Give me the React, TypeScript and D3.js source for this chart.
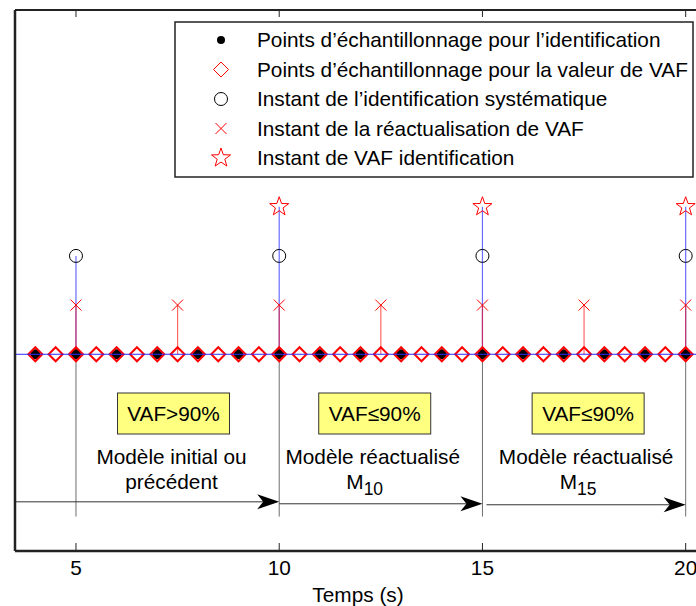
import React from "react";
import * as d3 from "d3";

// ---- data ----
const sampleIdent = [4, 5, 6, 7, 8, 9, 10, 11, 12, 13, 14, 15, 16, 17, 18, 19, 20];
const sampleVAF = [4, 4.5, 5, 5.5, 6, 6.5, 7, 7.5, 8, 8.5, 9, 9.5, 10, 10.5, 11, 11.5, 12, 12.5, 13, 13.5, 14, 14.5, 15, 15.5, 16, 16.5, 17, 17.5, 18, 18.5, 19, 19.5, 20];
const instIdent = [5, 10, 15, 20];
const instUpdate = [5, 7.5, 10, 12.5, 15, 17.5, 20];
const instVAFIdent = [10, 15, 20];
const levelUpdate = 1;
const levelIdent = 2;
const levelVAF = 3;
const xTicks = [5, 10, 15, 20];
const xLabel = "Temps (s)";
const legendLabels = [
  "Points d’échantillonnage pour l’identification",
  "Points d’échantillonnage pour la valeur de VAF",
  "Instant de l’identification systématique",
  "Instant de la réactualisation de VAF",
  "Instant de VAF identification",
];
const phaseCenters = [7.4, 12.35, 17.6];
const phaseConditions = ["VAF>90%", "VAF≤90%", "VAF≤90%"];
const phaseLine1 = ["Modèle initial ou", "Modèle réactualisé", "Modèle réactualisé"];
const phaseLine2 = ["précédent", "M", "M"];
const phaseSub = ["", "10", "15"];
const arrowStarts = [3.5, 10, 15.1];
const arrowEnds = [10, 15, 20];
const arrowLevels = [-3, -3.04, -3.06];
const guideBottom = -3.3;

const FONT = "'Liberation Sans', Arial, Helvetica, sans-serif";
const FS = 20.8;

function starPath(cx: number, cy: number, R: number, r: number) {
  const pts: string[] = [];
  for (let i = 0; i < 10; i++) {
    const a = -Math.PI / 2 + (i * Math.PI) / 5;
    const rad = i % 2 === 0 ? R : r;
    pts.push(`${cx + rad * Math.cos(a)},${cy + rad * Math.sin(a)}`);
  }
  return "M" + pts.join("L") + "Z";
}
function diamondPath(cx: number, cy: number, h: number) {
  return `M${cx},${cy - h}L${cx + h},${cy}L${cx},${cy + h}L${cx - h},${cy}Z`;
}
function crossPath(cx: number, cy: number, h: number) {
  return `M${cx - h},${cy - h}L${cx + h},${cy + h}M${cx - h},${cy + h}L${cx + h},${cy - h}`;
}

export default function App() {
  const W = 696, H = 606;
  const x = d3.scaleLinear().domain([3.5, 20.5]).range([15, 706]);
  const y = d3.scaleLinear().domain([-4, 7]).range([551, 10]);
  const [x0, x1] = x.range();
  const yTop = y(7), yBot = y(-4);
  const y0 = y(0);

  const legX = 175, legY = 22, legW = 518, legH = 155;
  const legRowY = (i: number) => legY + 18 + i * 29.5;
  const legSymX = 221, legTextX = 257;

  return (
    <svg width={W} height={H} style={{ position: "absolute", left: 0, top: 0, background: "#fff" }} fontFamily={FONT}>
      <rect x={0} y={0} width={W} height={H} fill="#fff" />
      {/* gray guides below baseline */}
      {instIdent.map((t) => (
        <line key={"g" + t} x1={x(t)} x2={x(t)} y1={y0} y2={y(guideBottom)} stroke="#6e6e6e" strokeWidth={1} />
      ))}
      {/* blue stems */}
      {instIdent.map((t) => (
        <line key={"bs" + t} x1={x(t)} x2={x(t)} y1={y0}
          y2={y(instVAFIdent.includes(t) ? levelVAF : levelIdent)} stroke="#6a6aff" strokeWidth={1.2} />
      ))}
      {/* red stems */}
      {instUpdate.map((t) => (
        <line key={"rs" + t} x1={x(t)} x2={x(t)} y1={y0} y2={y(levelUpdate)} stroke="rgba(255,0,0,0.6)" strokeWidth={1.2} />
      ))}
      {/* dots */}
      {sampleIdent.map((t) => (
        <circle key={"d" + t} cx={x(t)} cy={y0} r={5} fill="#000" />
      ))}
      {/* diamonds */}
      {sampleVAF.map((t) => (
        <path key={"dm" + t} d={diamondPath(x(t), y0, 7)} fill="none" stroke="#ff0000" strokeWidth={2} />
      ))}
      {/* baseline */}
      <line x1={x0} x2={x1} y1={y0} y2={y0} stroke="#2a2aff" strokeWidth={1} />
      {/* crosses */}
      {instUpdate.map((t) => (
        <path key={"c" + t} d={crossPath(x(t), y(levelUpdate), 5.5)} stroke="#ff0000" strokeWidth={1} fill="none" />
      ))}
      {/* circles */}
      {instIdent.map((t) => (
        <circle key={"o" + t} cx={x(t)} cy={y(levelIdent)} r={6.5} fill="none" stroke="#000" strokeWidth={1} />
      ))}
      {/* stars */}
      {instVAFIdent.map((t) => (
        <path key={"s" + t} d={starPath(x(t), y(levelVAF), 10, 4)} fill="none" stroke="#ff0000" strokeWidth={1} />
      ))}

      {/* phase annotations */}
      {phaseCenters.map((c, i) => {
        const cx = x(c);
        const bw = 112, bh = 41, by = 393;
        return (
          <g key={"p" + i}>
            <rect x={cx - bw / 2} y={by} width={bw} height={bh} fill="#ffff80" stroke="#333" strokeWidth={1} />
            <text x={cx} y={by + bh / 2 + 7} textAnchor="middle" fontSize={FS}>
              {phaseConditions[i]}
            </text>
            <text x={cx - 2} y={464} textAnchor="middle" fontSize={FS}>{phaseLine1[i]}</text>
            <text x={cx - 2 - (phaseSub[i] ? 8 : 0)} y={489} textAnchor="middle" fontSize={FS}>
              {phaseLine2[i]}
              {phaseSub[i] && (
                <tspan dy={6} fontSize={17.5}>{phaseSub[i]}</tspan>
              )}
            </text>
          </g>
        );
      })}

      {/* arrows */}
      {arrowStarts.map((s, i) => {
        const ax0 = x(s), ax1 = x(arrowEnds[i]), ay = y(arrowLevels[i]);
        const L = 22, hh = 7.5, notch = 6;
        return (
          <g key={"a" + i}>
            <line x1={ax0} x2={ax1 - L + notch} y1={ay} y2={ay} stroke="#333" strokeWidth={1} />
            <path d={`M${ax1},${ay}L${ax1 - L},${ay - hh}L${ax1 - L + notch},${ay}L${ax1 - L},${ay + hh}Z`} fill="#000" />
          </g>
        );
      })}

      {/* axes frame */}
      <line x1={x0} x2={x1} y1={yTop} y2={yTop} stroke="#222" strokeWidth={2} />
      <line x1={x0} x2={x1} y1={yBot} y2={yBot} stroke="#222" strokeWidth={2.5} />
      <line x1={x0} x2={x0} y1={yTop} y2={yBot} stroke="#222" strokeWidth={2.5} />
      {xTicks.map((t) => (
        <g key={"t" + t}>
          <line x1={x(t)} x2={x(t)} y1={yBot} y2={yBot - 8} stroke="#222" strokeWidth={1} />
          <line x1={x(t)} x2={x(t)} y1={yTop} y2={yTop + 7} stroke="#222" strokeWidth={1} />
          <text x={x(t)} y={575} textAnchor="middle" fontSize={FS}>{t}</text>
        </g>
      ))}
      <text x={358} y={602} textAnchor="middle" fontSize={FS}>{xLabel}</text>

      {/* legend */}
      <rect x={legX} y={legY} width={legW} height={legH} fill="#fff" stroke="#222" strokeWidth={1.5} />
      {legendLabels.map((lab, i) => {
        const ly = legRowY(i);
        let sym: React.ReactNode = null;
        if (i === 0) sym = <circle cx={legSymX} cy={ly} r={4} fill="#000" />;
        if (i === 1) sym = <path d={diamondPath(legSymX, ly, 7.5)} fill="none" stroke="#ff0000" strokeWidth={1} />;
        if (i === 2) sym = <circle cx={legSymX} cy={ly} r={6.5} fill="none" stroke="#000" strokeWidth={1} />;
        if (i === 3) sym = <path d={crossPath(legSymX, ly, 5.5)} fill="none" stroke="#ff0000" strokeWidth={1} />;
        if (i === 4) sym = <path d={starPath(legSymX, ly, 10, 4)} fill="none" stroke="#ff0000" strokeWidth={1} />;
        return (
          <g key={"l" + i}>
            {sym}
            <text x={legTextX} y={ly + 7} fontSize={FS}>{lab}</text>
          </g>
        );
      })}
    </svg>
  );
}
